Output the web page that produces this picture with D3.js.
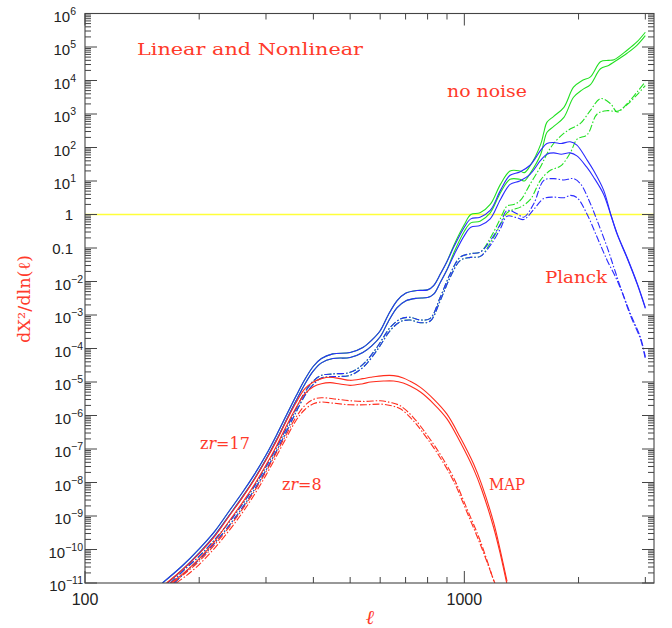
<!DOCTYPE html>
<html>
<head>
<meta charset="utf-8">
<script src="https://cdn.jsdelivr.net/npm/d3@7"></script>
<style>
  body { margin: 0; background: #fff; }
  text { font-family: "Liberation Sans", Arial, sans-serif; }
  .note { font-family: "DejaVu Serif", "Liberation Serif", serif; fill: #ff3a2a; }
</style>
</head>
<body>
<div id="chart"></div>
<script>
// each point: [multipole l, log10(dX^2/dln l)]
var greenSolidA = [[160,-11.0],[180,-10.5],[200,-9.98],[220,-9.45],[240,-8.85],[260,-8.3],[280,-7.75],[300,-7.18],[320,-6.58],[340,-5.98],[360,-5.42],[380,-4.92],[400,-4.53],[420,-4.3],[450,-4.16],[500,-4.12],[540,-3.97],[570,-3.75],[600,-3.47],[630,-3.0],[665,-2.57],[700,-2.35],[750,-2.27],[800,-2.25],[830,-2.12],[865,-1.77],[900,-1.4],[940,-0.9],[1000,-0.3],[1040,0.0],[1100,0.05],[1170,0.3],[1245,0.9],[1320,1.3],[1400,1.3],[1440,1.25],[1490,1.45],[1590,2.1],[1620,2.45],[1650,2.75],[1720,2.93],[1830,3.2],[1940,3.8],[2045,4.0],[2150,4.11],[2285,4.56],[2400,4.6],[2480,4.62],[2690,4.91],[2850,5.15],[3000,5.44]];
var greenSolidB = [[165,-11.0],[180,-10.62],[200,-10.1],[220,-9.57],[240,-8.98],[260,-8.43],[280,-7.88],[300,-7.31],[320,-6.72],[340,-6.12],[360,-5.56],[380,-5.06],[400,-4.67],[420,-4.43],[450,-4.3],[500,-4.27],[540,-4.12],[570,-3.92],[600,-3.65],[630,-3.2],[665,-2.78],[700,-2.58],[750,-2.5],[800,-2.48],[830,-2.38],[865,-2.02],[900,-1.65],[940,-1.12],[1000,-0.5],[1040,-0.25],[1100,-0.2],[1170,0.05],[1245,0.65],[1320,1.05],[1400,1.05],[1440,1.0],[1490,1.22],[1590,1.8],[1620,2.15],[1650,2.45],[1720,2.63],[1830,2.9],[1940,3.5],[2045,3.72],[2150,3.88],[2285,4.35],[2400,4.45],[2480,4.55],[2690,4.82],[2850,5.05],[3000,5.34]];
var greenDashA = [[168,-11.0],[185,-10.55],[200,-10.2],[220,-9.7],[240,-9.18],[260,-8.65],[280,-8.1],[300,-7.53],[320,-6.95],[340,-6.37],[360,-5.8],[380,-5.3],[400,-4.97],[420,-4.8],[450,-4.76],[500,-4.71],[542,-4.46],[588,-3.97],[638,-3.37],[678,-3.12],[720,-3.07],[766,-3.15],[813,-3.1],[864,-2.47],[918,-1.77],[976,-1.27],[1037,-1.17],[1102,-1.12],[1171,-0.7],[1245,-0.12],[1296,0.25],[1350,0.3],[1405,0.42],[1493,0.92],[1587,1.42],[1653,1.82],[1720,2.12],[1828,2.42],[1900,2.55],[2023,2.72],[2150,3.11],[2285,3.46],[2428,3.31],[2529,3.06],[2687,3.31],[2856,3.66],[3000,3.96]];
var greenDashB = [[172,-11.0],[185,-10.65],[200,-10.3],[220,-9.8],[240,-9.28],[260,-8.75],[280,-8.2],[300,-7.63],[320,-7.05],[340,-6.47],[360,-5.9],[380,-5.4],[400,-5.07],[420,-4.88],[450,-4.84],[500,-4.8],[542,-4.55],[588,-4.06],[638,-3.46],[678,-3.2],[720,-3.15],[766,-3.23],[813,-3.18],[864,-2.57],[918,-1.87],[976,-1.37],[1037,-1.28],[1102,-1.25],[1171,-0.85],[1245,-0.3],[1296,0.05],[1350,0.15],[1405,0.22],[1493,0.45],[1587,1.02],[1686,1.32],[1795,1.45],[1904,1.85],[1983,2.25],[2108,2.38],[2239,3.0],[2380,3.1],[2529,3.08],[2687,3.28],[2856,3.58],[3000,3.85]];

var blueSolidA = [[160,-11.0],[180,-10.5],[200,-9.98],[220,-9.45],[240,-8.85],[260,-8.3],[280,-7.75],[300,-7.18],[320,-6.58],[340,-5.98],[360,-5.42],[380,-4.92],[400,-4.53],[420,-4.3],[450,-4.16],[500,-4.12],[540,-3.97],[570,-3.75],[600,-3.47],[630,-3.0],[665,-2.57],[700,-2.35],[750,-2.27],[800,-2.25],[830,-2.12],[865,-1.77],[900,-1.4],[940,-0.95],[1000,-0.38],[1040,-0.13],[1100,-0.08],[1170,0.12],[1245,0.72],[1320,1.17],[1400,1.27],[1490,1.47],[1590,1.92],[1650,2.12],[1720,2.15],[1800,2.12],[1900,2.17],[1980,2.07],[2100,1.65],[2190,1.32],[2330,0.72],[2430,0.02],[2530,-0.58],[2690,-1.3],[2860,-2.08],[3000,-2.78]];
var blueSolidB = [[165,-11.0],[180,-10.62],[200,-10.1],[220,-9.57],[240,-8.98],[260,-8.43],[280,-7.88],[300,-7.31],[320,-6.72],[340,-6.12],[360,-5.56],[380,-5.06],[400,-4.67],[420,-4.43],[450,-4.3],[500,-4.27],[540,-4.12],[570,-3.92],[600,-3.65],[630,-3.2],[665,-2.78],[700,-2.58],[750,-2.5],[800,-2.48],[830,-2.38],[865,-2.02],[900,-1.65],[940,-1.2],[1000,-0.63],[1040,-0.38],[1100,-0.33],[1170,-0.13],[1245,0.45],[1320,0.9],[1400,1.0],[1490,1.2],[1590,1.62],[1650,1.8],[1720,1.84],[1800,1.8],[1900,1.84],[1980,1.75],[2100,1.42],[2190,1.12],[2330,0.6],[2430,0.0],[2530,-0.6],[2690,-1.32],[2860,-2.1],[3000,-2.8]];
var blueDashA = [[168,-11.0],[185,-10.55],[200,-10.2],[220,-9.7],[240,-9.18],[260,-8.65],[280,-8.1],[300,-7.53],[320,-6.95],[340,-6.37],[360,-5.8],[380,-5.3],[400,-4.97],[420,-4.8],[450,-4.76],[500,-4.71],[542,-4.46],[588,-3.97],[638,-3.37],[678,-3.12],[720,-3.07],[766,-3.15],[813,-3.1],[864,-2.47],[918,-1.77],[976,-1.27],[1037,-1.17],[1102,-1.12],[1171,-0.78],[1245,-0.28],[1296,0.12],[1377,0.02],[1434,-0.08],[1524,0.32],[1620,1.02],[1720,1.07],[1830,1.03],[1904,1.07],[1943,1.07],[2023,0.92],[2150,0.32],[2239,-0.18],[2380,-0.98],[2477,-1.57],[2580,-2.17],[2742,-2.97],[2913,-3.67],[3000,-4.25]];
var blueDashB = [[172,-11.0],[185,-10.65],[200,-10.3],[220,-9.8],[240,-9.28],[260,-8.75],[280,-8.2],[300,-7.63],[320,-7.05],[340,-6.47],[360,-5.9],[380,-5.4],[400,-5.07],[420,-4.88],[450,-4.84],[500,-4.8],[542,-4.55],[588,-4.06],[638,-3.46],[678,-3.2],[720,-3.15],[766,-3.23],[813,-3.18],[864,-2.57],[918,-1.87],[976,-1.37],[1037,-1.28],[1102,-1.25],[1171,-0.92],[1245,-0.42],[1296,-0.05],[1377,-0.1],[1434,-0.15],[1524,0.15],[1620,0.48],[1720,0.52],[1830,0.5],[1904,0.57],[1983,0.5],[2108,0.0],[2239,-0.68],[2380,-1.37],[2500,-1.85],[2600,-2.3],[2742,-3.02],[2913,-3.72],[3000,-4.3]];

var redSolidA = [[164,-11.0],[180,-10.62],[200,-10.12],[220,-9.6],[240,-9.0],[260,-8.45],[280,-7.9],[300,-7.33],[320,-6.75],[340,-6.15],[360,-5.62],[380,-5.2],[400,-5.0],[420,-4.9],[443,-4.86],[470,-4.9],[500,-4.95],[540,-4.9],[566,-4.86],[612,-4.81],[651,-4.81],[690,-4.88],[720,-4.98],[766,-5.16],[830,-5.51],[900,-5.96],[976,-6.66],[1058,-7.45],[1110,-8.05],[1195,-9.2],[1245,-10.05],[1296,-10.95]];
var redSolidB = [[168,-11.0],[180,-10.75],[200,-10.27],[220,-9.75],[240,-9.15],[260,-8.6],[280,-8.05],[300,-7.48],[320,-6.9],[340,-6.3],[360,-5.77],[380,-5.35],[400,-5.14],[420,-5.05],[443,-5.02],[470,-5.06],[500,-5.1],[540,-5.05],[566,-5.0],[612,-4.97],[651,-4.97],[690,-5.03],[720,-5.12],[766,-5.3],[830,-5.65],[900,-6.1],[976,-6.8],[1058,-7.6],[1110,-8.2],[1195,-9.35],[1245,-10.15],[1296,-11.05]];
var redDashA = [[170,-11.0],[185,-10.68],[200,-10.35],[220,-9.85],[240,-9.33],[260,-8.8],[280,-8.25],[300,-7.68],[320,-7.1],[340,-6.55],[360,-6.05],[380,-5.7],[400,-5.52],[420,-5.47],[450,-5.5],[500,-5.56],[550,-5.58],[600,-5.56],[638,-5.61],[678,-5.71],[734,-6.06],[795,-6.56],[864,-7.16],[937,-7.86],[1013,-8.75],[1102,-9.75],[1200,-11.0]];
var redDashB = [[174,-11.0],[185,-10.78],[200,-10.45],[220,-9.95],[240,-9.43],[260,-8.9],[280,-8.35],[300,-7.78],[320,-7.2],[340,-6.65],[360,-6.15],[380,-5.82],[400,-5.65],[420,-5.6],[450,-5.63],[500,-5.68],[550,-5.68],[600,-5.66],[638,-5.7],[678,-5.8],[734,-6.16],[795,-6.66],[864,-7.26],[937,-7.96],[1013,-8.85],[1102,-9.85],[1212,-11.1]];

var thresholdValue = 1;
var xMajorTicks = [100, 1000];
var xMinorTicks = [200, 300, 400, 500, 600, 700, 800, 900, 2000, 3000];
var xTickLabels = ["100", "1000"];
var yTickExponents = [6, 5, 4, 3, 2, 1, 0, -1, -2, -3, -4, -5, -6, -7, -8, -9, -10, -11];
var yMinorMantissas = [2, 3, 4, 5, 6, 7, 8, 9];

var width = 672, height = 628;
var plot = {left: 85, right: 654, top: 13.5, bottom: 583};

var svg = d3.select("#chart")
  .append("svg")
    .attr("width", width)
    .attr("height", height);

var x = d3.scaleLog().domain([100, 3162]).range([plot.left, plot.right]);
var y = d3.scaleLog().domain([1e-11, 1e6]).range([plot.bottom, plot.top]);

svg.append("clipPath").attr("id", "plotclip")
  .append("rect")
    .attr("x", plot.left).attr("y", plot.top)
    .attr("width", plot.right - plot.left).attr("height", plot.bottom - plot.top);

// yellow S/N = 1 line
svg.append("line")
  .attr("x1", plot.left).attr("x2", plot.right)
  .attr("y1", y(thresholdValue)).attr("y2", y(thresholdValue))
  .attr("stroke", "#ffff3a")
  .attr("stroke-width", 1.3);

var line = d3.line()
  .x(function(d) { return x(d[0]); })
  .y(function(d) { return y(Math.pow(10, d[1])); })
  .curve(d3.curveCatmullRom.alpha(0.5));

var green = "#22e022", blue = "#2b2bff", red = "#ff2d1d";
var dashDot = "7,2,1.5,2";
var series = [
  {data: greenSolidA, color: green, dash: null},
  {data: greenSolidB, color: green, dash: null},
  {data: greenDashA, color: green, dash: dashDot},
  {data: greenDashB, color: green, dash: dashDot},
  {data: blueSolidA, color: blue, dash: null},
  {data: blueSolidB, color: blue, dash: null},
  {data: blueDashA, color: blue, dash: dashDot},
  {data: blueDashB, color: blue, dash: dashDot},
  {data: redSolidA, color: red, dash: null},
  {data: redSolidB, color: red, dash: null},
  {data: redDashA, color: red, dash: dashDot},
  {data: redDashB, color: red, dash: dashDot}
];

svg.append("g")
    .attr("clip-path", "url(#plotclip)")
  .selectAll("path")
  .data(series)
  .enter()
  .append("path")
    .attr("fill", "none")
    .attr("stroke", function(d) { return d.color; })
    .attr("stroke-width", 1.1)
    .attr("stroke-dasharray", function(d) { return d.dash; })
    .attr("d", function(d) { return line(d.data); });

// frame
var axisColor = "#444";
svg.append("rect")
  .attr("x", plot.left).attr("y", plot.top)
  .attr("width", plot.right - plot.left).attr("height", plot.bottom - plot.top)
  .attr("fill", "none")
  .attr("stroke", axisColor)
  .attr("stroke-width", 1.1);

var ticks = svg.append("g").attr("stroke", axisColor).attr("stroke-width", 1);

// x ticks, bottom and top
function xTick(v, len) {
  ticks.append("line").attr("x1", x(v)).attr("x2", x(v)).attr("y1", plot.bottom).attr("y2", plot.bottom - len);
  ticks.append("line").attr("x1", x(v)).attr("x2", x(v)).attr("y1", plot.top).attr("y2", plot.top + len);
}
xMajorTicks.forEach(function(v) { xTick(v, 12); });
xMinorTicks.forEach(function(v) { xTick(v, 6); });

// y ticks, left and right
function yTick(v, len) {
  ticks.append("line").attr("y1", y(v)).attr("y2", y(v)).attr("x1", plot.left).attr("x2", plot.left + len);
  ticks.append("line").attr("y1", y(v)).attr("y2", y(v)).attr("x1", plot.right).attr("x2", plot.right - len);
}
yTickExponents.forEach(function(e) {
  yTick(Math.pow(10, e), 12);
  if (e > -11) {
    yMinorMantissas.forEach(function(m) { yTick(m * Math.pow(10, e - 1), 6); });
  }
});

// x tick labels
svg.append("g").selectAll("text")
  .data(xMajorTicks)
  .enter()
  .append("text")
    .attr("x", function(d) { return x(d); })
    .attr("y", 605)
    .attr("text-anchor", "middle")
    .attr("font-size", 16)
    .attr("fill", "#222")
    .text(function(d, i) { return xTickLabels[i]; });

// y tick labels
yTickExponents.forEach(function(e) {
  var ty = y(Math.pow(10, e));
  if (e === 0 || e === -1) {
    svg.append("text")
      .attr("x", 73).attr("y", ty + 5.5)
      .attr("text-anchor", "end")
      .attr("font-size", 15)
      .attr("fill", "#222")
      .text(e === 0 ? "1" : "0.1");
    return;
  }
  var t = svg.append("text")
    .attr("x", e > 0 ? 76 : 83).attr("y", ty + 8)
    .attr("text-anchor", "end")
    .attr("font-size", 15)
    .attr("fill", "#222");
  t.append("tspan").text("10");
  t.append("tspan")
    .attr("dy", -7)
    .attr("font-size", 10.5)
    .text(e < 0 ? "\u2212" + (-e) : String(e));
});

// axis titles
svg.append("text")
  .attr("class", "note")
  .attr("x", 370).attr("y", 624)
  .attr("text-anchor", "middle")
  .attr("font-size", 20)
  .attr("font-style", "italic")
  .text("\u2113");

svg.append("text")
  .attr("class", "note")
  .attr("transform", "translate(30,299) rotate(-90)")
  .attr("text-anchor", "middle")
  .attr("font-size", 16.5)
  .attr("textLength", 88)
  .attr("lengthAdjust", "spacingAndGlyphs")
  .text("dX\u00b2/dln(\u2113)");

// annotations
function note(tx, ty, str, len) {
  return svg.append("text")
    .attr("class", "note")
    .attr("x", tx).attr("y", ty)
    .attr("font-size", 16)
    .attr("textLength", len)
    .attr("lengthAdjust", "spacingAndGlyphs")
    .text(str);
}
note(137, 55, "Linear and Nonlinear", 226);
note(447, 97, "no noise", 80);
note(545, 283, "Planck", 62);
note(489, 490, "MAP", 36);

function zrNote(tx, ty, num) {
  var t = svg.append("text")
    .attr("class", "note")
    .attr("x", tx).attr("y", ty)
    .attr("font-size", 16);
  t.append("tspan").text("z");
  t.append("tspan").attr("font-style", "italic").text("r");
  t.append("tspan").text("=" + num);
}
zrNote(200, 449, "17");
zrNote(282, 490, "8");
</script>
</body>
</html>
